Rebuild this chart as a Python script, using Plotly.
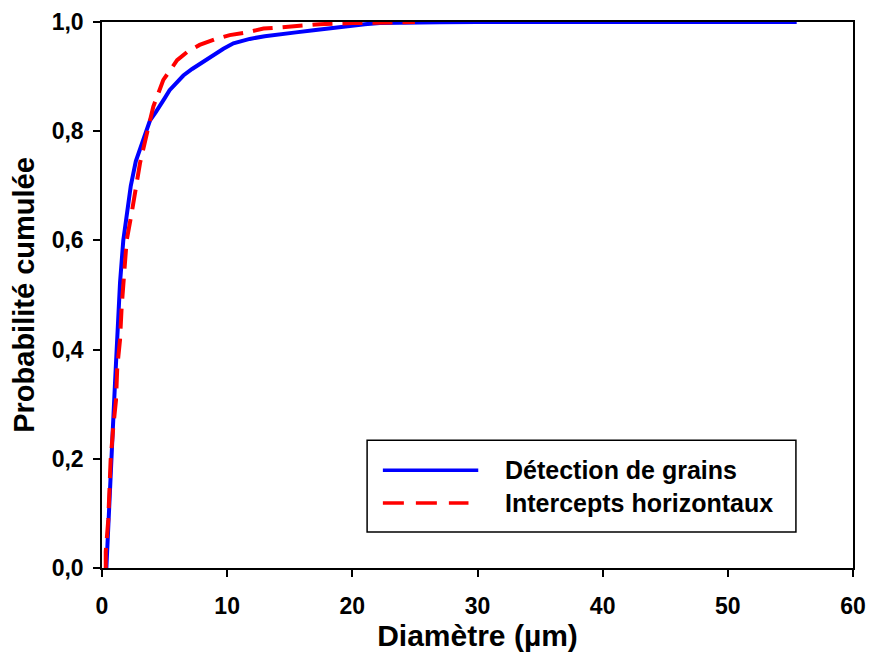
import plotly.graph_objects as go

# cumulative distributions
detect_x = [0.35, 0.5, 0.69, 0.85, 1.04, 1.22, 1.44, 1.7, 2.0, 2.3, 2.7, 3.0, 3.4, 3.84,
            4.3, 4.6, 5.0, 5.4, 6.0, 6.5, 7.2, 8.1, 9.0, 9.7, 10.5, 11.8, 13.0, 14.2,
            15.5, 16.9, 18.0, 19.6, 21.0, 22.2, 24.0, 27.0, 30.0, 35.0, 45.0, 55.5]
detect_y = [0.0, 0.064, 0.156, 0.247, 0.339, 0.43, 0.522, 0.6, 0.656, 0.7, 0.745, 0.766,
            0.795, 0.82, 0.835, 0.845, 0.86, 0.875, 0.89, 0.902, 0.914, 0.928, 0.941, 0.951,
            0.961, 0.969, 0.974, 0.978, 0.981, 0.985, 0.988, 0.993, 0.996, 0.998, 0.999,
            0.9995, 1.0, 1.0, 1.0, 1.0]

inter_x = [0.3, 0.3, 0.5, 0.69, 0.9, 1.12, 1.22, 1.44, 1.57, 1.78, 1.97, 2.37, 2.6, 3.04,
           3.6, 4.1, 4.9, 6.0, 6.8, 7.8, 9.0, 10.2, 11.6, 12.9, 14.2, 15.5, 17.4, 20.0,
           22.0, 25.0]
inter_y = [0.0, 0.03, 0.088, 0.198, 0.258, 0.308, 0.368, 0.418, 0.478, 0.533, 0.6, 0.65,
           0.68, 0.742, 0.797, 0.845, 0.894, 0.93, 0.945, 0.958, 0.968, 0.976, 0.981,
           0.988, 0.99, 0.993, 0.996, 0.998, 0.999, 1.0]

y_ticks = [0.0, 0.2, 0.4, 0.6, 0.8, 1.0]
y_labels = ["0,0", "0,2", "0,4", "0,6", "0,8", "1,0"]
x_ticks = [0, 10, 20, 30, 40, 50, 60]

names = ["Détection de grains", "Intercepts horizontaux"]
colors = ["#0000FF", "#FF0000"]
dashes = ["solid", "20px,10px"]

font = "Liberation Sans, Arial, sans-serif"

fig = go.Figure()
fig.add_trace(go.Scatter(x=detect_x, y=detect_y, mode="lines", name=names[0],
                         line=dict(color=colors[0], width=4, dash=dashes[0])))
fig.add_trace(go.Scatter(x=inter_x, y=inter_y, mode="lines", name=names[1],
                         line=dict(color=colors[1], width=4, dash=dashes[1])))

# hand-made legend box (long line samples like the original)
shapes = [dict(type="rect", xref="paper", yref="paper", x0=0.353, x1=0.924, y0=0.066, y1=0.234,
               line=dict(color="black", width=1.5), fillcolor="white", layer="above")]
annotations = []
for i, (nm, col) in enumerate(zip(names, colors)):
    yy = 0.179 - i * 0.06
    shapes.append(dict(type="line", xref="paper", yref="paper", x0=0.374, x1=0.501 - i * 0.013,
                       y0=yy, y1=yy, layer="above",
                       line=dict(color=col, width=3.5, dash="21px,12px" if i else "solid")))
    annotations.append(dict(xref="paper", yref="paper", x=0.534, y=yy, text="<b>%s</b>" % nm,
                            showarrow=False, xanchor="left", yanchor="middle",
                            font=dict(family=font, size=25, color="black")))

fig.update_layout(
    width=869, height=658,
    margin=dict(l=102, r=16, t=22, b=90),
    plot_bgcolor="white", paper_bgcolor="white",
    showlegend=False,
    font=dict(family=font, color="black"),
    shapes=shapes, annotations=annotations,
    xaxis=dict(range=[0, 60], tickvals=x_ticks, ticks="outside", ticklen=7, tickwidth=1.5,
               tickcolor="black", showline=True, linecolor="black", linewidth=1.5, mirror=True,
               showgrid=False, zeroline=False, ticklabelstandoff=10, automargin=False,
               tickfont=dict(family=font, size=23, weight="bold"),
               title=dict(text="<b>Diamètre (µm)</b>", standoff=3,
                          font=dict(family=font, size=30))),
    yaxis=dict(range=[0, 1], tickvals=y_ticks, ticktext=y_labels, ticks="outside", ticklen=7,
               tickwidth=1.5, tickcolor="black", showline=True, linecolor="black", linewidth=1.5,
               mirror=True, showgrid=False, zeroline=False, ticklabelstandoff=5,
               automargin=False,
               tickfont=dict(family=font, size=23, weight="bold"),
               title=dict(text="<b>Probabilité cumulée</b>", standoff=9,
                          font=dict(family=font, size=29))),
)

# drop the default page margin so the figure fills the window without scrollbars
fig.write_html("out.html", config={"displayModeBar": False},
               post_script="document.body.style.margin='0';document.body.style.overflow='hidden';")
